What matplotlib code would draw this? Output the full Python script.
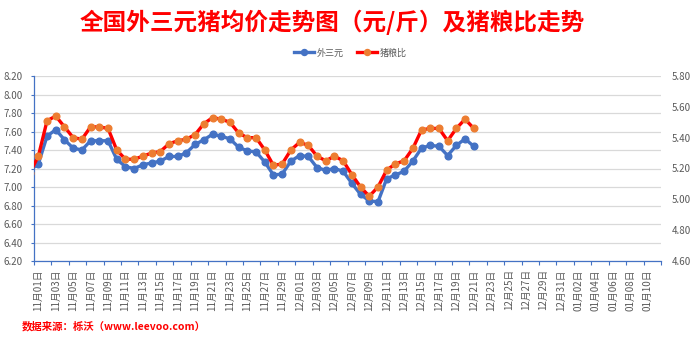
import numpy as np
import pandas as pd
import matplotlib
matplotlib.use('Agg')
import matplotlib.pyplot as plt
from matplotlib.ticker import FixedLocator, FormatStrFormatter

plt.rcParams['font.family'] = ['Noto Sans CJK SC', 'DejaVu Sans']

# 横轴类别：11月01日 ~ 01月11日
days = pd.date_range('2020-11-01', '2021-01-11', freq='D')
day_labels = [d.strftime('%m月%d日') for d in days]

# 数据从10月31日开始（左边被截掉半格），到12月21日
data_start = '2020-10-31'
price = [7.18,
         7.25, 7.55, 7.62, 7.51, 7.42, 7.40, 7.50, 7.50, 7.50, 7.30,
         7.22, 7.20, 7.24, 7.26, 7.28, 7.33, 7.33, 7.37, 7.46, 7.51,
         7.57, 7.55, 7.52, 7.43, 7.39, 7.38, 7.27, 7.13, 7.14, 7.28,
         7.34, 7.33, 7.21, 7.18, 7.20, 7.17, 7.04, 6.92, 6.85, 6.84,
         7.09, 7.13, 7.17, 7.28, 7.42, 7.45, 7.44, 7.34, 7.45, 7.52,
         7.44]
ratio = [5.17,
         5.28, 5.51, 5.54, 5.47, 5.40, 5.39, 5.47, 5.47, 5.46, 5.32,
         5.26, 5.26, 5.28, 5.30, 5.31, 5.36, 5.38, 5.39, 5.42, 5.49,
         5.53, 5.52, 5.50, 5.43, 5.40, 5.40, 5.32, 5.22, 5.23, 5.32,
         5.37, 5.35, 5.28, 5.25, 5.28, 5.25, 5.16, 5.08, 5.02, 5.08,
         5.19, 5.23, 5.25, 5.33, 5.45, 5.46, 5.46, 5.38, 5.46, 5.52,
         5.46]

left_ticks = np.arange(6.2, 8.21, 0.2)
right_ticks = np.arange(4.6, 5.81, 0.2)

blue = '#4472C4'
red = '#FF0000'
orange = '#ED7D31'
gray = '#595959'

# 位置：以11月01日为0
x0 = (pd.Timestamp(data_start) - days[0]).days
x = np.arange(len(price)) + x0

fig = plt.figure(figsize=(7, 3.38), dpi=100)
ax = fig.add_axes([34 / 700, 1 - 261 / 338, 627 / 700, 185 / 338])
ax2 = ax.twinx()

l1, = ax.plot(x, price, color=blue, lw=2.4, marker='o', ms=4.8, mec=blue, mfc=blue, label='外三元')
l2, = ax2.plot(x, ratio, color=red, lw=2.4, marker='o', ms=4.8, mec=orange, mfc=orange, label='猪粮比')

ax.set_xlim(-0.5, len(days) - 0.5)
ax.set_ylim(6.2, 8.2)
ax2.set_ylim(4.6, 5.8)
ax.set_yticks(left_ticks)
ax2.set_yticks(right_ticks)
ax.yaxis.set_major_formatter(FormatStrFormatter('%.2f'))
ax2.yaxis.set_major_formatter(FormatStrFormatter('%.2f'))
ax.grid(axis='y', color='#D9D9D9', lw=0.9)
ax.set_axisbelow(True)

# 每两天一个标签，刻度线在类别边界
lab_pos = np.arange(0, len(days), 2)
ax.set_xticks(lab_pos)
ax.set_xticklabels([day_labels[i] for i in lab_pos], rotation=90, fontsize=7, color=gray)
ax.xaxis.set_minor_locator(FixedLocator(np.arange(-0.5, len(days), 2)))
ax.tick_params(axis='x', which='major', length=0, pad=6)
ax.tick_params(axis='x', which='minor', length=3, color=blue, width=0.8)
ax.tick_params(axis='y', labelsize=7, labelcolor=gray, length=2, color=blue, width=0.8, pad=6)
ax2.tick_params(axis='y', labelsize=7, labelcolor=gray, length=0, pad=8)

for a in (ax, ax2):
    for s in ('top', 'right', 'left', 'bottom'):
        a.spines[s].set_visible(False)
for s in ('left', 'bottom'):
    ax.spines[s].set_visible(True)
    ax.spines[s].set_color(blue)
    ax.spines[s].set_linewidth(0.9)

fig.text(0.475, 1 - 22 / 338, '全国外三元猪均价走势图（元/斤）及猪粮比走势', ha='center', va='center',
         color=red, fontsize=17, fontweight='bold')
fig.legend(handles=[l1, l2], loc='center', bbox_to_anchor=(0.5, 1 - 53 / 338), ncol=2, frameon=False,
           fontsize=6.5, labelcolor=gray, handlelength=2.2, columnspacing=1.5, handletextpad=0.3,
           markerscale=0.9)
fig.text(22 / 700, 1 - 326 / 338, '数据来源：栎沃（www.leevoo.com）', ha='left', va='center',
         color=red, fontsize=7.5, fontweight='bold')

plt.savefig('out.png', dpi=100)
